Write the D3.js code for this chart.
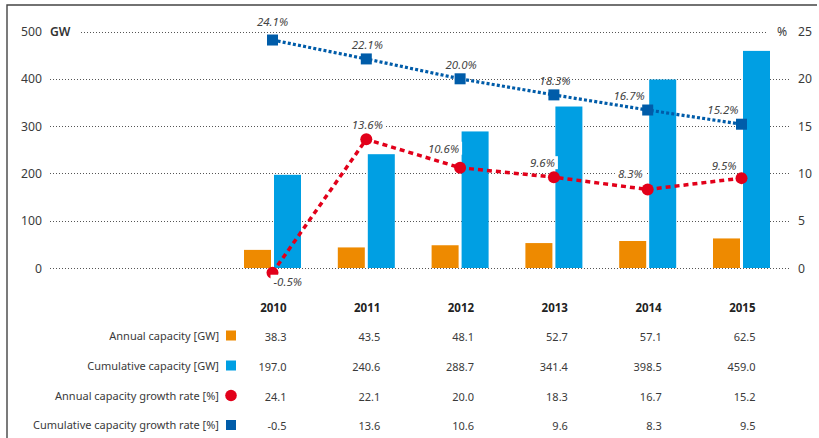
<!DOCTYPE html>
<html>
<head>
<meta charset="utf-8">
<script src="https://cdn.jsdelivr.net/npm/d3@7"></script>
<style>
  body { margin: 0; background: #fff; }
  svg { font-family: "Noto Sans", sans-serif; display: block; }
</style>
</head>
<body>
<svg id="chart" width="819" height="438"></svg>
<script>
// data
var years = ["2010", "2011", "2012", "2013", "2014", "2015"];
var annualGW = [38.3, 43.5, 48.1, 52.7, 57.1, 62.5];
var cumulativeGW = [197.0, 240.6, 288.7, 341.4, 398.5, 459.0];
var cumGrowth = [24.1, 22.1, 20.0, 18.3, 16.7, 15.2];      // blue squares
var annualGrowth = [-0.5, 13.6, 10.6, 9.6, 8.3, 9.5];     // red dots
var leftTicks = [0, 100, 200, 300, 400, 500];
var rightTicks = [0, 5, 10, 15, 20, 25];

// table as printed (row labels in the source are swapped for the rates)
var rowLabels = ["Annual capacity [GW]", "Cumulative capacity [GW]",
                 "Annual capacity growth rate [%]", "Cumulative capacity growth rate [%]"];
var rowValues = [annualGW, cumulativeGW, cumGrowth, annualGrowth];
var rowDigits = [1, 1, 1, 1];

var orange = "#ee8a00", cyan = "#009fe3", navy = "#005ca9", red = "#e2001a";
var textCol = "#3a3a3a";

var svg = d3.select("#chart");

var x = d3.scalePoint().domain(years).range([272.5, 741.5]);
var yL = d3.scaleLinear().domain([0, 500]).range([268, 31.5]);
var yR = d3.scaleLinear().domain([0, 25]).range([268, 31.5]);

// frame
svg.append("path")
  .attr("d", "M7,438 V5 H817")
  .attr("fill", "none").attr("stroke", "#444").attr("stroke-width", 1.4);

// grid lines (dotted)
var grid = svg.append("g");
leftTicks.forEach(function (t) {
  var top = t === 500;
  grid.append("line")
    .attr("x1", top ? 81 : 50).attr("x2", top ? 768 : 789)
    .attr("y1", Math.round(yL(t)) + 0.5).attr("y2", Math.round(yL(t)) + 0.5)
    .attr("stroke", "#555").attr("stroke-width", 1)
    .attr("stroke-dasharray", "1,2");
});

// left axis labels
svg.append("g").selectAll("text").data(leftTicks).join("text")
  .attr("x", 42).attr("y", function (d) { return yL(d) + 4.5; })
  .attr("text-anchor", "end").attr("font-size", 12.2).attr("fill", textCol)
  .text(function (d) { return d; });
svg.append("text").attr("x", 50).attr("y", yL(500) + 4.5)
  .attr("font-size", 12.2).attr("font-weight", 600).attr("fill", "#333").text("GW");

// right axis labels
svg.append("g").selectAll("text").data(rightTicks).join("text")
  .attr("x", 798).attr("y", function (d) { return yR(d) + 4.5; })
  .attr("font-size", 12.2).attr("fill", textCol)
  .text(function (d) { return d; });
svg.append("text").attr("x", 777).attr("y", yR(25) + 4.5)
  .attr("font-size", 12.2).attr("fill", textCol).text("%");

// bars
var bw = 27;
svg.append("g").selectAll("rect").data(annualGW).join("rect")
  .attr("x", function (d, i) { return x(years[i]) - 1.5 - bw; })
  .attr("y", function (d) { return yL(d); })
  .attr("width", bw)
  .attr("height", function (d) { return yL(0) - yL(d); })
  .attr("fill", orange);
svg.append("g").selectAll("rect").data(cumulativeGW).join("rect")
  .attr("x", function (d, i) { return x(years[i]) + 1.5; })
  .attr("y", function (d) { return yL(d); })
  .attr("width", bw)
  .attr("height", function (d) { return yL(0) - yL(d); })
  .attr("fill", cyan);

// lines
var line = d3.line()
  .x(function (d, i) { return x(years[i]); })
  .y(function (d) { return yR(d); });

svg.append("path").datum(cumGrowth)
  .attr("d", line).attr("fill", "none")
  .attr("stroke", navy).attr("stroke-width", 3.2)
  .attr("stroke-dasharray", "3,2.2");
svg.append("path").datum(annualGrowth)
  .attr("d", line).attr("fill", "none")
  .attr("stroke", red).attr("stroke-width", 3.5)
  .attr("stroke-dasharray", "5,4");

// markers
svg.append("g").selectAll("rect").data(cumGrowth).join("rect")
  .attr("x", function (d, i) { return x(years[i]) - 5.5; })
  .attr("y", function (d) { return yR(d) - 5.5; })
  .attr("width", 11).attr("height", 11)
  .attr("fill", navy);
svg.append("g").selectAll("circle").data(annualGrowth).join("circle")
  .attr("cx", function (d, i) { return x(years[i]); })
  .attr("cy", function (d) { return yR(d); })
  .attr("r", 6)
  .attr("fill", red);

// value labels (placement per point)
var blueLab = [[0, -14, "middle"], [1, -10, "middle"], [1, -10, "middle"],
               [1, -9.5, "middle"], [-3, -10, "end"], [-3, -10, "end"]];
var redLab = [[1, 13, "start"], [1, -10, "middle"], [-1, -15, "end"],
              [1, -10, "end"], [-5, -11, "end"], [-5, -8.5, "end"]];

function labels(vals, place, bg) {
  var g = svg.append("g");
  vals.forEach(function (v, i) {
    var p = place[i];
    var t = g.append("text")
      .attr("x", x(years[i]) + p[0])
      .attr("y", yR(v) + p[1])
      .attr("text-anchor", p[2])
      .attr("font-size", 11.5).attr("font-style", "italic")
      .attr("fill", "#444")
      .text(v.toFixed(1) + "%");
    if (bg) {
      var b = t.node().getBBox();
      g.insert("rect", "text")
        .attr("x", b.x - 3).attr("y", b.y + 1)
        .attr("width", b.width + 6).attr("height", b.height - 2)
        .attr("fill", "#fff");
    }
  });
}
labels(cumGrowth, blueLab, false);
labels(annualGrowth, redLab, true);

// table
var rowY = [340.5, 370.5, 400.5, 430];
var tbl = svg.append("g");
tbl.selectAll("text.yr").data(years).join("text")
  .attr("class", "yr")
  .attr("x", function (d) { return x(d) + 14; })
  .attr("y", 311.5)
  .attr("text-anchor", "end")
  .attr("font-size", 11.5).attr("font-weight", "bold").attr("fill", "#222")
  .text(function (d) { return d; });

rowLabels.forEach(function (lab, r) {
  tbl.append("text")
    .attr("x", 219).attr("y", rowY[r] - 1)
    .attr("text-anchor", "end")
    .attr("font-size", 11).attr("fill", textCol)
    .text(lab);
  tbl.selectAll("text.r" + r).data(rowValues[r]).join("text")
    .attr("class", "r" + r)
    .attr("x", function (d, i) { return x(years[i]) + 14; })
    .attr("y", rowY[r])
    .attr("text-anchor", "end")
    .attr("font-size", 11).attr("fill", textCol)
    .text(function (d) { return d.toFixed(rowDigits[r]); });
});

// legend keys in table
var keyY = rowY.map(function (y) { return y - 5; });
tbl.append("rect").attr("x", 226).attr("y", keyY[0] - 5).attr("width", 10).attr("height", 10).attr("fill", orange);
tbl.append("rect").attr("x", 226).attr("y", keyY[1] - 5).attr("width", 10).attr("height", 10).attr("fill", cyan);
tbl.append("circle").attr("cx", 231).attr("cy", keyY[2]).attr("r", 5.8).attr("fill", red);
tbl.append("rect").attr("x", 226).attr("y", keyY[3] - 5).attr("width", 10).attr("height", 10).attr("fill", navy);
</script>
</body>
</html>
